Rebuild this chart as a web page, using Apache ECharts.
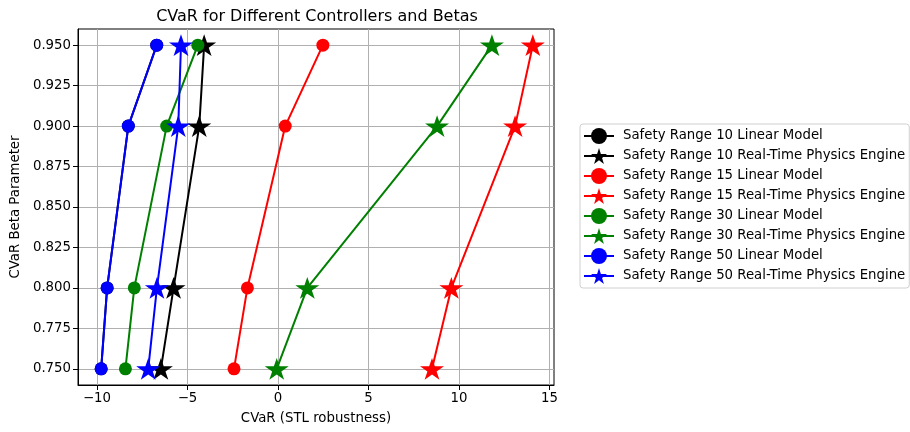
<!DOCTYPE html>
<html>
<head>
<meta charset="utf-8">
<script src="https://cdn.jsdelivr.net/npm/echarts@6/dist/echarts.min.js"></script>
<style>
  html, body { margin: 0; padding: 0; background: #fff; }
  #chart { width: 910px; height: 432px; }
</style>
</head>
<body>
<div id="chart"></div>
<script>
// CVaR beta levels (y) and CVaR of STL robustness (x) per controller
const betas = [0.75, 0.80, 0.90, 0.95];

const sr10Linear = [-9.77, -9.44, -8.27, -6.70];
const sr10Physics = [-6.47, -5.77, -4.35, -4.08];
const sr15Linear = [-2.43, -1.69, 0.40, 2.48];
const sr15Physics = [8.51, 9.58, 13.10, 14.08];
const sr30Linear = [-8.43, -7.94, -6.15, -4.43];
const sr30Physics = [-0.07, 1.62, 8.79, 11.82];
const sr50Linear = [-9.77, -9.44, -8.27, -6.70];
const sr50Physics = [-7.17, -6.69, -5.51, -5.36];

const xTicks = [-10, -5, 0, 5, 10, 15];
const yTicks = [0.75, 0.775, 0.80, 0.825, 0.85, 0.875, 0.90, 0.925, 0.95];

const seriesNames = [
  'Safety Range 10 Linear Model',
  'Safety Range 10 Real-Time Physics Engine',
  'Safety Range 15 Linear Model',
  'Safety Range 15 Real-Time Physics Engine',
  'Safety Range 30 Linear Model',
  'Safety Range 30 Real-Time Physics Engine',
  'Safety Range 50 Linear Model',
  'Safety Range 50 Real-Time Physics Engine'
];
const seriesValues = [sr10Linear, sr10Physics, sr15Linear, sr15Physics,
                      sr30Linear, sr30Physics, sr50Linear, sr50Physics];
const colors = ['#000000', '#000000', '#ff0000', '#ff0000',
                '#008000', '#008000', '#0000ff', '#0000ff'];

// five-pointed star (inner/outer radius ratio 0.382)
const STAR = 'path://M0,-1L0.2245,-0.309L0.951,-0.309L0.3633,0.118L0.5878,0.809L0,0.382L-0.5878,0.809L-0.3633,0.118L-0.951,-0.309L-0.2245,-0.309Z';

const font = 'DejaVu Sans';
const fs = 13.3;

const series = seriesNames.map((name, i) => {
  const isStar = i % 2 === 1;
  return {
    name: name,
    type: 'line',
    z: 3 + i,
    data: seriesValues[i].map((v, k) => [v, betas[k]]),
    symbol: isStar ? STAR : 'circle',
    symbolSize: isStar ? [24, 23] : 13,
    symbolKeepAspect: true,
    showAllSymbol: true,
    lineStyle: { color: colors[i], width: 2 },
    itemStyle: { color: colors[i], borderColor: colors[i], borderWidth: 0 },
    emphasis: { disabled: true },
    animation: false
  };
});

const chart = echarts.init(document.getElementById('chart'), null, { renderer: 'canvas' });
chart.setOption({
  animation: false,
  backgroundColor: '#ffffff',
  title: {
    text: 'CVaR for Different Controllers and Betas',
    left: 312,
    textAlign: 'center',
    top: 4,
    textStyle: { fontFamily: font, fontSize: 16, fontWeight: 'normal', color: '#000' }
  },
  legend: {
    orient: 'vertical',
    left: 580,
    top: 124,
    data: seriesNames,
    itemWidth: 30,
    itemHeight: 20,
    itemGap: 4,
    padding: [4, 4, 4, 3],
    borderColor: '#d0d0d0',
    borderWidth: 1,
    borderRadius: 3,
    backgroundColor: '#ffffff',
    textStyle: { fontFamily: font, fontSize: fs, color: '#000', padding: [0, 0, 0, 4] }
  },
  grid: {
    left: 78, right: 356, top: 29, bottom: 47,
    outerBoundsMode: 'none',
    containLabel: false,
    show: true, borderColor: '#000', borderWidth: 1, backgroundColor: 'transparent'
  },
  xAxis: {
    type: 'value',
    min: -11.05,
    max: 15.25,
    name: 'CVaR (STL robustness)',
    nameLocation: 'middle',
    nameGap: 27,
    nameTextStyle: { fontFamily: font, fontSize: fs, color: '#000' },
    axisLine: { show: true, onZero: false, lineStyle: { color: '#000', width: 1 } },
    axisTick: { show: true, inside: false, length: 5, customValues: xTicks, lineStyle: { color: '#000' } },
    axisLabel: { customValues: xTicks, fontFamily: font, fontSize: fs, color: '#000', margin: 7,
                 formatter: v => (v < 0 ? '\u2212' + Math.abs(v) : String(v)) },
    splitLine: { show: true, lineStyle: { color: '#b0b0b0', width: 1 } }
  },
  yAxis: {
    type: 'value',
    min: 0.74,
    max: 0.96,
    name: 'CVaR Beta Parameter',
    nameLocation: 'middle',
    nameGap: 50,
    nameTextStyle: { fontFamily: font, fontSize: fs, color: '#000' },
    axisLine: { show: true, onZero: false, lineStyle: { color: '#000', width: 1 } },
    axisTick: { show: true, inside: false, length: 5, customValues: yTicks, lineStyle: { color: '#000' } },
    axisLabel: { customValues: yTicks, fontFamily: font, fontSize: fs, color: '#000', margin: 7,
                 formatter: v => v.toFixed(3) },
    splitLine: { show: true, lineStyle: { color: '#b0b0b0', width: 1 } }
  },
  series: series
});
</script>
</body>
</html>
